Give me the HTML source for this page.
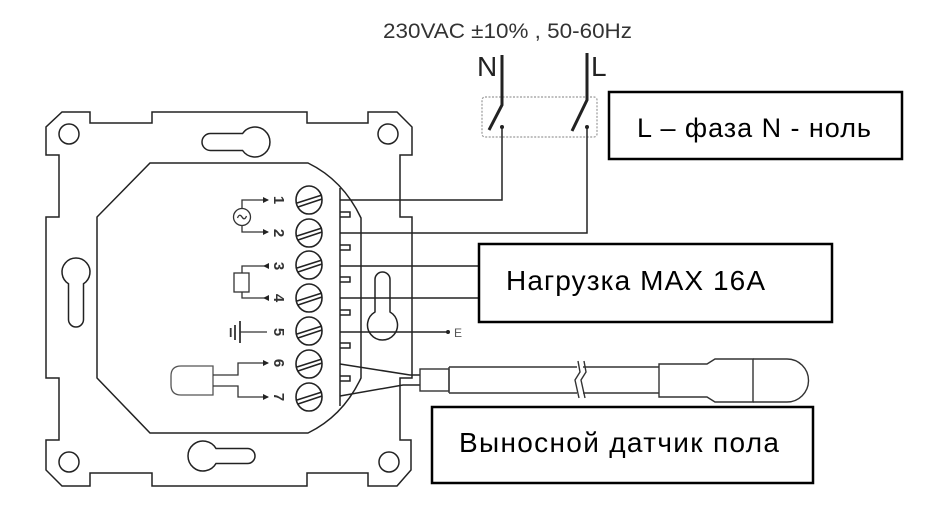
<!DOCTYPE html>
<html>
<head>
<meta charset="utf-8">
<style>
html,body{margin:0;padding:0;background:#fff;}
svg{display:block;}
</style>
</head>
<body>
<svg width="930" height="522" viewBox="0 0 930 522" xmlns="http://www.w3.org/2000/svg">
<rect x="0" y="0" width="930" height="522" fill="#fff"/>

<!-- top supply text -->
<text x="383" y="38" font-family="Liberation Sans, sans-serif" font-size="21" fill="#333" textLength="249" lengthAdjust="spacingAndGlyphs">230VAC ±10% , 50-60Hz</text>
<text x="477" y="76" font-family="Liberation Sans, sans-serif" font-size="28" fill="#222">N</text>
<text x="591" y="76" font-family="Liberation Sans, sans-serif" font-size="28" fill="#222">L</text>

<!-- dotted switch box -->
<rect x="482" y="97" width="115" height="40" rx="3" fill="none" stroke="#9a9a9a" stroke-width="1.2" stroke-dasharray="2 1.5"/>
<!-- switch blades -->
<path d="M502,55 V105 L489,130" fill="none" stroke="#222" stroke-width="3"/>
<path d="M587,53 V100 L572,131" fill="none" stroke="#222" stroke-width="3"/>
<circle cx="502" cy="127" r="2" fill="#222"/>
<circle cx="587" cy="127" r="2" fill="#222"/>

<g fill="none" stroke="#222" stroke-width="1.5">
  <!-- mounting plate -->
  <path d="M62,112 H90 V123 H152 V112 H307 V123 H368 V112 H397 L412,127 V155 H400 V217 H412 V378 H400 V440 H411 V470 L397,486 H368 V473 H307 V486 H152 V473 H90 V486 H62 L46,470 V440 H59 V378 H46 V217 H59 V155 H46 V127 Z"/>
  <!-- corner holes -->
  <circle cx="69" cy="134" r="10"/>
  <circle cx="388" cy="134" r="10"/>
  <circle cx="69" cy="462" r="10"/>
  <circle cx="389" cy="462" r="10"/>
  <!-- keyholes -->
  <path d="M242.6,133.5 H210.5 A8.5,8.5 0 0 0 210.5,150.5 H242.6 A15,15 0 1 0 242.6,133.5 Z"/>
  <path d="M216,448.5 H247.5 A7.5,7.5 0 0 1 247.5,463.5 H216 A15,15 0 1 1 216,448.5 Z"/>
  <path d="M68.5,283.8 V319.5 A7.5,7.5 0 0 0 83.5,319.5 V283.8 A14,14 0 1 0 68.5,283.8 Z"/>
  <path d="M375,312 V279.5 A7.5,7.5 0 0 1 390,279.5 V312 A15,15 0 1 1 375,312 Z"/>

  <!-- body -->
  <path d="M150,163 H308 Q343,180 361,218 V378 Q343,416 308,433 H150 L97,378 V217 Z"/>
  <!-- terminal comb -->
  <path d="M340,188 V406"/>
  <path d="M340,212 H350 V217 H340 M340,245 H350 V250 H340 M340,277 H350 V282 H340 M340,310 H350 V315 H340 M340,343 H350 V348 H340 M340,376 H350 V381 H340"/>

  <!-- wires to supply / load -->
  <path d="M502,127 V200 H340"/>
  <path d="M587,127 V233 H340"/>
  <path d="M340,266 H479"/>
  <path d="M340,298 H479"/>
  <path d="M340,332 H448"/>
  <!-- sensor wires -->
  <path d="M340,364 L410,375 H420"/>
  <path d="M340,396 L403,385 H420"/>
</g>

<!-- screws -->
<g fill="#fff" stroke="#222" stroke-width="1.6">
  <g transform="translate(309,200)"><ellipse rx="13" ry="14"/><path d="M-12,3 L13,-5 M-11,7 L13,-1" fill="none"/></g>
  <g transform="translate(309,233)"><ellipse rx="13" ry="14"/><path d="M-12,3 L13,-5 M-11,7 L13,-1" fill="none"/></g>
  <g transform="translate(309,265)"><ellipse rx="13" ry="14"/><path d="M-12,3 L13,-5 M-11,7 L13,-1" fill="none"/></g>
  <g transform="translate(309,298)"><ellipse rx="13" ry="14"/><path d="M-12,3 L13,-5 M-11,7 L13,-1" fill="none"/></g>
  <g transform="translate(309,331)"><ellipse rx="13" ry="14"/><path d="M-12,3 L13,-5 M-11,7 L13,-1" fill="none"/></g>
  <g transform="translate(309,364)"><ellipse rx="13" ry="14"/><path d="M-12,3 L13,-5 M-11,7 L13,-1" fill="none"/></g>
  <g transform="translate(309,397)"><ellipse rx="13" ry="14"/><path d="M-12,3 L13,-5 M-11,7 L13,-1" fill="none"/></g>
</g>

<!-- terminal numbers -->
<g font-family="Liberation Sans, sans-serif" font-size="15" font-weight="bold" fill="#333" text-anchor="middle">
  <text transform="translate(279,200) rotate(90)" dy="5">1</text>
  <text transform="translate(279,233) rotate(90)" dy="5">2</text>
  <text transform="translate(279,266) rotate(90)" dy="5">3</text>
  <text transform="translate(279,298) rotate(90)" dy="5">4</text>
  <text transform="translate(279,332) rotate(90)" dy="5">5</text>
  <text transform="translate(279,363) rotate(90)" dy="5">6</text>
  <text transform="translate(279,397) rotate(90)" dy="5">7</text>
</g>

<!-- internal symbols -->
<g fill="none" stroke="#333" stroke-width="1.3">
  <!-- supply ~ -->
  <path d="M268,200 H242 V208.5 M242,225.5 V232 H268"/>
  <circle cx="242" cy="217" r="8.5"/>
  <path d="M237.5,218 q2,-5 4.5,-1 q2.5,4 4.5,-1"/>
  <!-- load -->
  <path d="M268,266 H242 V273 M242,292 V298 H268"/>
  <rect x="234" y="273" width="15" height="19"/>
  <!-- ground -->
  <path d="M240,332 H267"/>
  <path d="M240,321 V343 M235,325 V340 M230.7,328 V337" stroke-width="1.8"/>
  <!-- sensor probe -->
  <path d="M213,366 H181 Q171,366 171,376 V385 Q171,395 181,395 H213 Z" stroke="#555"/>
  <path d="M213,375 H238 V363 H268 M213,386 H238 V397 H268"/>
</g>
<!-- arrowheads -->
<g fill="#222">
  <path d="M269,200 L263,197 L263,203 Z"/>
  <path d="M269,232 L263,229 L263,235 Z"/>
  <path d="M263,266 L269,263 L269,269 Z"/>
  <path d="M263,298 L269,295 L269,301 Z"/>
  <path d="M269,363 L263,360 L263,366 Z"/>
  <path d="M269,397 L263,394 L263,400 Z"/>
  <circle cx="448" cy="332" r="2"/>
</g>
<text x="454" y="337" font-family="Liberation Sans, sans-serif" font-size="12" fill="#555">E</text>

<!-- external sensor -->
<g fill="none" stroke="#333" stroke-width="1.4">
  <rect x="420" y="369" width="29" height="22" fill="#fff"/>
  <path d="M449,367 V393"/>
  <path d="M449,367 H577 M449,393 H577"/>
  <path d="M583,367 H659 M583,393 H659"/>
  <path d="M578,361 L580,372 L575,380 L579,398"/>
  <path d="M584,361 L586,372 L581,380 L585,398"/>
  <path d="M659,364 H707 L715,359 H753 V402 H715 L707,397 H659 Z"/>
  <path d="M753,359 H787 A21.5,21.5 0 0 1 787,402 H753"/>
</g>

<!-- label boxes -->
<rect x="609" y="92" width="293" height="67" fill="#fff" stroke="#000" stroke-width="2.5"/>
<text x="637" y="137" font-family="Liberation Sans, sans-serif" font-size="27" fill="#000" textLength="234" lengthAdjust="spacing">L – фаза N - ноль</text>

<rect x="479" y="244" width="353" height="78" fill="#fff" stroke="#000" stroke-width="2.5"/>
<text x="506" y="290" font-family="Liberation Sans, sans-serif" font-size="28" fill="#000" textLength="259" lengthAdjust="spacing">Нагрузка MAX 16A</text>

<rect x="432" y="407" width="381" height="76" fill="#fff" stroke="#000" stroke-width="2.5"/>
<text x="459" y="452" font-family="Liberation Sans, sans-serif" font-size="28" fill="#000" textLength="320" lengthAdjust="spacing">Выносной датчик пола</text>
</svg>
</body>
</html>
